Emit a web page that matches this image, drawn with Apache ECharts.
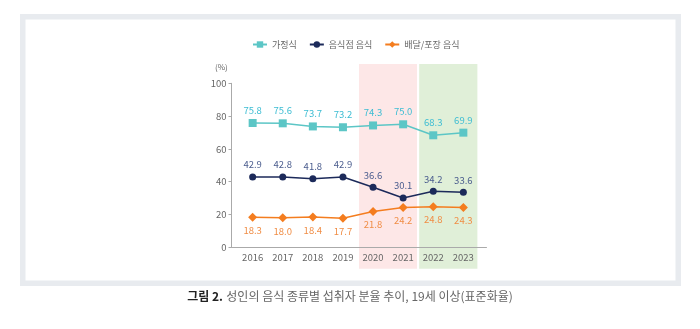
<!DOCTYPE html>
<html>
<head>
<meta charset="utf-8">
<script src="https://cdn.jsdelivr.net/npm/echarts@6/dist/echarts.min.js"></script>
<style>
  html, body { margin: 0; padding: 0; background: #fff; }
  #chart { width: 700px; height: 329px; }
</style>
</head>
<body>
<div id="chart"></div>
<script>
// Survey years and intake rates (%) by food type
const years = ['2016', '2017', '2018', '2019', '2020', '2021', '2022', '2023'];
const homeMeal = [75.8, 75.6, 73.7, 73.2, 74.3, 75.0, 68.3, 69.9];
const restaurantFood = [42.9, 42.8, 41.8, 42.9, 36.6, 30.1, 34.2, 33.6];
const deliveryFood = [18.3, 18.0, 18.4, 17.7, 21.8, 24.2, 24.8, 24.3];
const seriesNames = ['가정식', '음식점 음식', '배달/포장 음식'];
const yTicks = { min: 0, max: 100, interval: 20 };
const shadedPeriods = [['2020', '2021'], ['2022', '2023']];

const FONT = '"Noto Sans CJK KR", "Noto Sans", sans-serif';
const pxPerUnit = 1.64;
const zeroY = 247.3, plotTop = 63, plotBottom = 269.7;

const chart = echarts.init(document.getElementById('chart'), null, { renderer: 'canvas' });

function lineSeries(name, data, color, labelColor, symbol, size, pos) {
  return {
    name, type: 'line', data, xAxisIndex: 0, yAxisIndex: 0,
    symbol, symbolSize: size,
    lineStyle: { color, width: 1.5 },
    itemStyle: { color },
    label: {
      show: true, position: pos, distance: 4,
      color: labelColor, fontSize: 9.5, fontFamily: FONT,
      formatter: p => p.value.toFixed(1)
    },
    z: 5
  };
}

const bandColors = ['#fde7e7', '#e0efd8'];

chart.setOption({
  animation: false,
  textStyle: { fontFamily: FONT },
  legend: {
    data: seriesNames,
    left: 252, top: 40, padding: 0,
    itemWidth: 14, itemHeight: 8, itemGap: 12,
    textStyle: { color: '#666', fontSize: 9, fontFamily: FONT }
  },
  grid: [
    // data grid: category bands span the shaded period height
    { left: 237.6, width: 240.8, top: plotTop, height: plotBottom - plotTop },
    // axis frame grid
    { left: 231.5, width: 255, top: 83.3, height: 164 }
  ],
  xAxis: [
    {
      type: 'category', data: years, gridIndex: 0, boundaryGap: true, z: 3,
      offset: -(plotBottom - zeroY),
      axisLine: { show: false }, axisTick: { show: false },
      axisLabel: { color: '#666', fontSize: 9.5, margin: 5, interval: 0, fontFamily: FONT },
      splitLine: { show: false }
    },
    {
      type: 'value', gridIndex: 1, min: 0, max: 1, z: 3,
      axisLine: { show: true, lineStyle: { color: '#aaa', width: 1 } },
      axisTick: { show: false }, axisLabel: { show: false }, splitLine: { show: false }
    },
    {
      // band-edge axis: category i spans [i - 0.5, i + 0.5]
      type: 'value', gridIndex: 0, min: -0.5, max: years.length - 0.5, show: false
    }
  ],
  yAxis: [
    {
      type: 'value', gridIndex: 0,
      min: -(plotBottom - zeroY) / pxPerUnit,
      max: (zeroY - plotTop) / pxPerUnit,
      show: false
    },
    {
      type: 'value', gridIndex: 1, min: yTicks.min, max: yTicks.max, interval: yTicks.interval, z: 3,
      axisLine: { show: true, lineStyle: { color: '#aaa', width: 1 } },
      axisTick: { show: true, length: 3, lineStyle: { color: '#aaa' } },
      axisLabel: { color: '#666', fontSize: 9.5, margin: 5, fontFamily: FONT },
      splitLine: { show: false }
    }
  ],
  graphic: [
    {
      type: 'rect', silent: true, z: -10,
      shape: { x: 22.75, y: 16.75, width: 655.5, height: 266.5 },
      style: { fill: 'none', stroke: '#e8ebef', lineWidth: 5.5 }
    },
    {
      type: 'text', left: 215, top: 63,
      style: { text: '(%)', fill: '#666', fontSize: 8, fontFamily: FONT }
    },
    {
      type: 'text', left: 'center', top: 290,
      style: {
        text: '{b|그림 2.} {n|성인의 음식 종류별 섭취자 분율 추이, 19세 이상(표준화율)}',
        rich: {
          b: { fill: '#222', fontSize: 12, fontWeight: 'bold', fontFamily: FONT },
          n: { fill: '#666', fontSize: 12, fontFamily: FONT }
        }
      }
    }
  ],
  series: [
    {
      type: 'line', data: [], xAxisIndex: 2, yAxisIndex: 0, z: 1, silent: true,
      markArea: {
        silent: true,
        itemStyle: { borderColor: '#fff', borderWidth: 2 },
        data: shadedPeriods.map((p, i) => [
          { xAxis: years.indexOf(p[0]) - 0.5, itemStyle: { color: bandColors[i] } },
          { xAxis: years.indexOf(p[1]) + 0.5 }
        ])
      }
    },
    lineSeries(seriesNames[0], homeMeal, '#5cc6c6', '#3dbdd3', 'rect', 8, 'top'),
    lineSeries(seriesNames[1], restaurantFood, '#1c2a5a', '#4b5d8e', 'circle', 7, 'top'),
    lineSeries(seriesNames[2], deliveryFood, '#f47d1f', '#f08d45', 'diamond', 9, 'bottom')
  ]
});
</script>
</body>
</html>
